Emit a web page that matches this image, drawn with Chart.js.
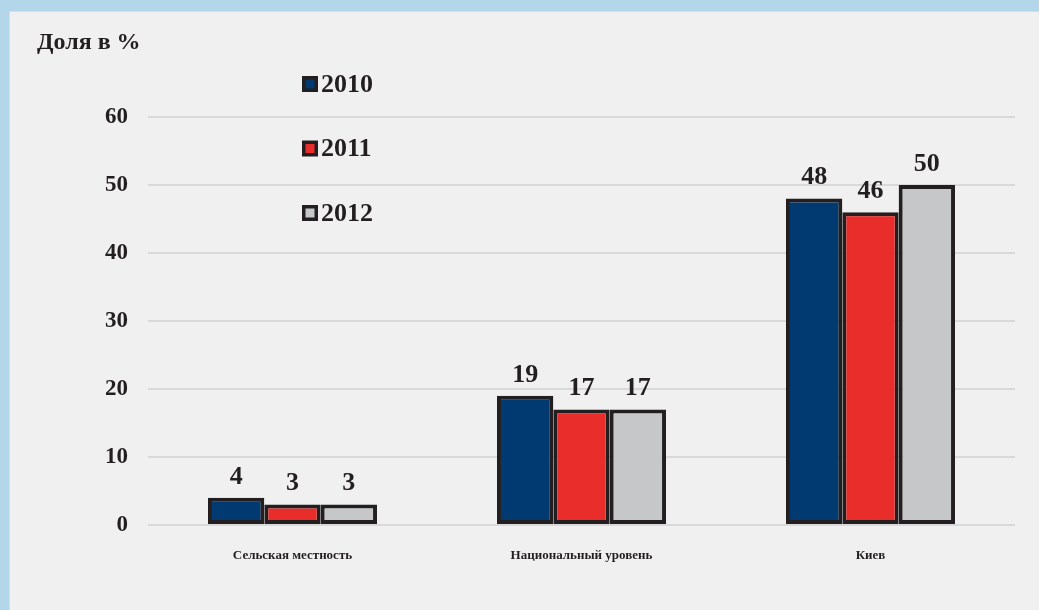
<!DOCTYPE html>
<html>
<head>
<meta charset="utf-8">
<script src="https://cdn.jsdelivr.net/npm/chart.js@4"></script>
<style>
  html, body { margin: 0; padding: 0; }
  body { width: 1039px; height: 610px; background: #b3d6ea; position: relative; overflow: hidden; }
  #panel {
    position: absolute; left: 9px; top: 11px; width: 1030px; height: 599px;
    background: #f0f0f0; border-left: 1px solid #dcdcdc; border-top: 1px solid #dcdcdc;
  }
  #chart { display: block; }
</style>
</head>
<body>
<div id="panel"><canvas id="chart" width="1029" height="598"></canvas></div>
<script>
const categories = ['Сельская местность', 'Национальный уровень', 'Киев'];
const years = ['2010', '2011', '2012'];
const values2010 = [4, 19, 48];
const values2011 = [3, 17, 46];
const values2012 = [3, 17, 50];
const yTicks = [0, 10, 20, 30, 40, 50, 60];

const colors = ['#003a70', '#e92d2a', '#c6c7c9'];
const edge = '#231f20';
const serif = '"Liberation Serif", "Times New Roman", serif';

// value labels above each bar
const barLabels = {
  id: 'barLabels',
  afterDatasetsDraw(chart) {
    const ctx = chart.ctx;
    ctx.save();
    ctx.fillStyle = edge;
    ctx.font = 'bold 26px ' + serif;
    ctx.textAlign = 'center';
    ctx.textBaseline = 'bottom';
    chart.data.datasets.forEach((ds, i) => {
      chart.getDatasetMeta(i).data.forEach((bar, j) => {
        ctx.fillText(String(ds.data[j]), bar.x, bar.y - 8);
      });
    });
    ctx.restore();
  }
};

// axis caption and the stacked legend in the upper left
const extras = {
  id: 'extras',
  afterDraw(chart) {
    const ctx = chart.ctx;
    ctx.save();
    ctx.fillStyle = edge;
    ctx.font = 'bold 24px ' + serif;
    ctx.textAlign = 'left';
    ctx.textBaseline = 'middle';
    ctx.fillText('Доля в %', 27, 31);

    ctx.font = 'bold 26px ' + serif;
    chart.data.datasets.forEach((ds, i) => {
      const y = 72 + i * 64.5;
      ctx.fillStyle = edge;
      ctx.fillRect(292, y - 8, 16, 16);
      ctx.fillStyle = ds.backgroundColor;
      ctx.fillRect(295.5, y - 4.5, 9, 9);
      ctx.fillStyle = edge;
      ctx.fillText(ds.label, 311, y + 1);
    });
    ctx.restore();
  }
};

new Chart(document.getElementById('chart'), {
  type: 'bar',
  data: {
    labels: categories,
    datasets: [values2010, values2011, values2012].map((vals, i) => ({
      label: years[i],
      data: vals,
      backgroundColor: colors[i],
      borderColor: edge,
      borderWidth: 4,
      borderSkipped: false,
      categoryPercentage: 0.585,
      barPercentage: 1
    }))
  },
  options: {
    responsive: false,
    animation: false,
    layout: { padding: { top: 105, right: 24, left: 0, bottom: 0 } },
    plugins: { legend: { display: false }, tooltip: { enabled: false } },
    scales: {
      x: {
        grid: { display: false },
        border: { display: false },
        ticks: {
          color: edge,
          font: { family: serif, size: 13, weight: 'bold' },
          padding: 15
        },
        afterFit(scale) { scale.height = 85; }
      },
      y: {
        min: 0,
        max: 60,
        afterBuildTicks(scale) { scale.ticks = yTicks.map(v => ({ value: v })); },
        grid: { color: '#d9d9d9', lineWidth: 2, drawTicks: false },
        border: { display: false },
        ticks: {
          color: edge,
          font: { family: serif, size: 23, weight: 'bold' },
          padding: 20
        },
        afterFit(scale) { scale.width = 138; }
      }
    }
  },
  plugins: [barLabels, extras]
});
</script>
</body>
</html>
